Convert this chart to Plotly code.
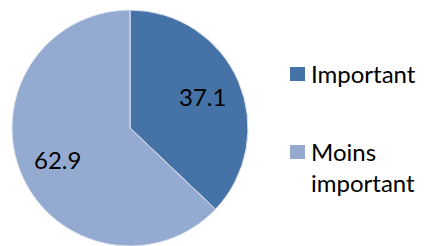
import math
import plotly.graph_objects as go

labels = ["Important", "Moins important"]
values = [37.1, 62.9]
colors = ["#4572A7", "#95AAD0"]

FONT = "Lato, Open Sans, sans-serif"
W, H = 425, 246
dom_x = [12 / W, 248 / W]
dom_y = [0, 236 / H]

fig = go.Figure()
fig.add_trace(go.Pie(
    labels=labels, values=values, sort=False, direction="clockwise", rotation=0,
    marker=dict(colors=colors, line=dict(color="#dfe6f1", width=1)),
    textinfo="none",
    domain=dict(x=dom_x, y=dom_y),
    showlegend=False, hoverinfo="skip",
))

# data labels placed along each slice's bisector
cx_px = (dom_x[0] + dom_x[1]) / 2 * W
cy_px = (1 - (dom_y[0] + dom_y[1]) / 2) * H
R = min((dom_x[1] - dom_x[0]) * W, (dom_y[1] - dom_y[0]) * H) / 2
total = sum(values)
cum = 0
for v in values:
    mid = (cum + v / 2) / total * 2 * math.pi
    cum += v
    px = cx_px + 0.67 * R * math.sin(mid)
    py = cy_px - 0.67 * R * math.cos(mid)
    fig.add_annotation(xref="paper", yref="paper", x=px / W, y=1 - py / H,
                       xanchor="center", yanchor="middle", showarrow=False,
                       text=f"{v}", font=dict(family=FONT, size=24, color="black"))

# legend drawn manually from labels/colors
leg_y = [74, 152]
for lab, col, yy in zip(labels, colors, leg_y):
    fig.add_shape(type="rect", xref="paper", yref="paper",
                  x0=290 / W, x1=305 / W, y0=1 - (yy + 7) / H, y1=1 - (yy - 7) / H,
                  fillcolor=col, line=dict(width=0))
    text = lab.replace(" ", "<br>")
    fig.add_annotation(xref="paper", yref="paper", x=309 / W, y=1 - (yy - 17) / H,
                       xanchor="left", yanchor="top", align="left", showarrow=False,
                       text=text,
                       font=dict(family=FONT, size=24, color="black"))

fig.update_layout(width=W, height=H, margin=dict(l=0, r=0, t=0, b=0),
                  paper_bgcolor="white", plot_bgcolor="white")
fig.write_html("out.html", config={"displayModeBar": False},
               post_script="document.body.style.margin='0';document.body.style.overflow='hidden';")
